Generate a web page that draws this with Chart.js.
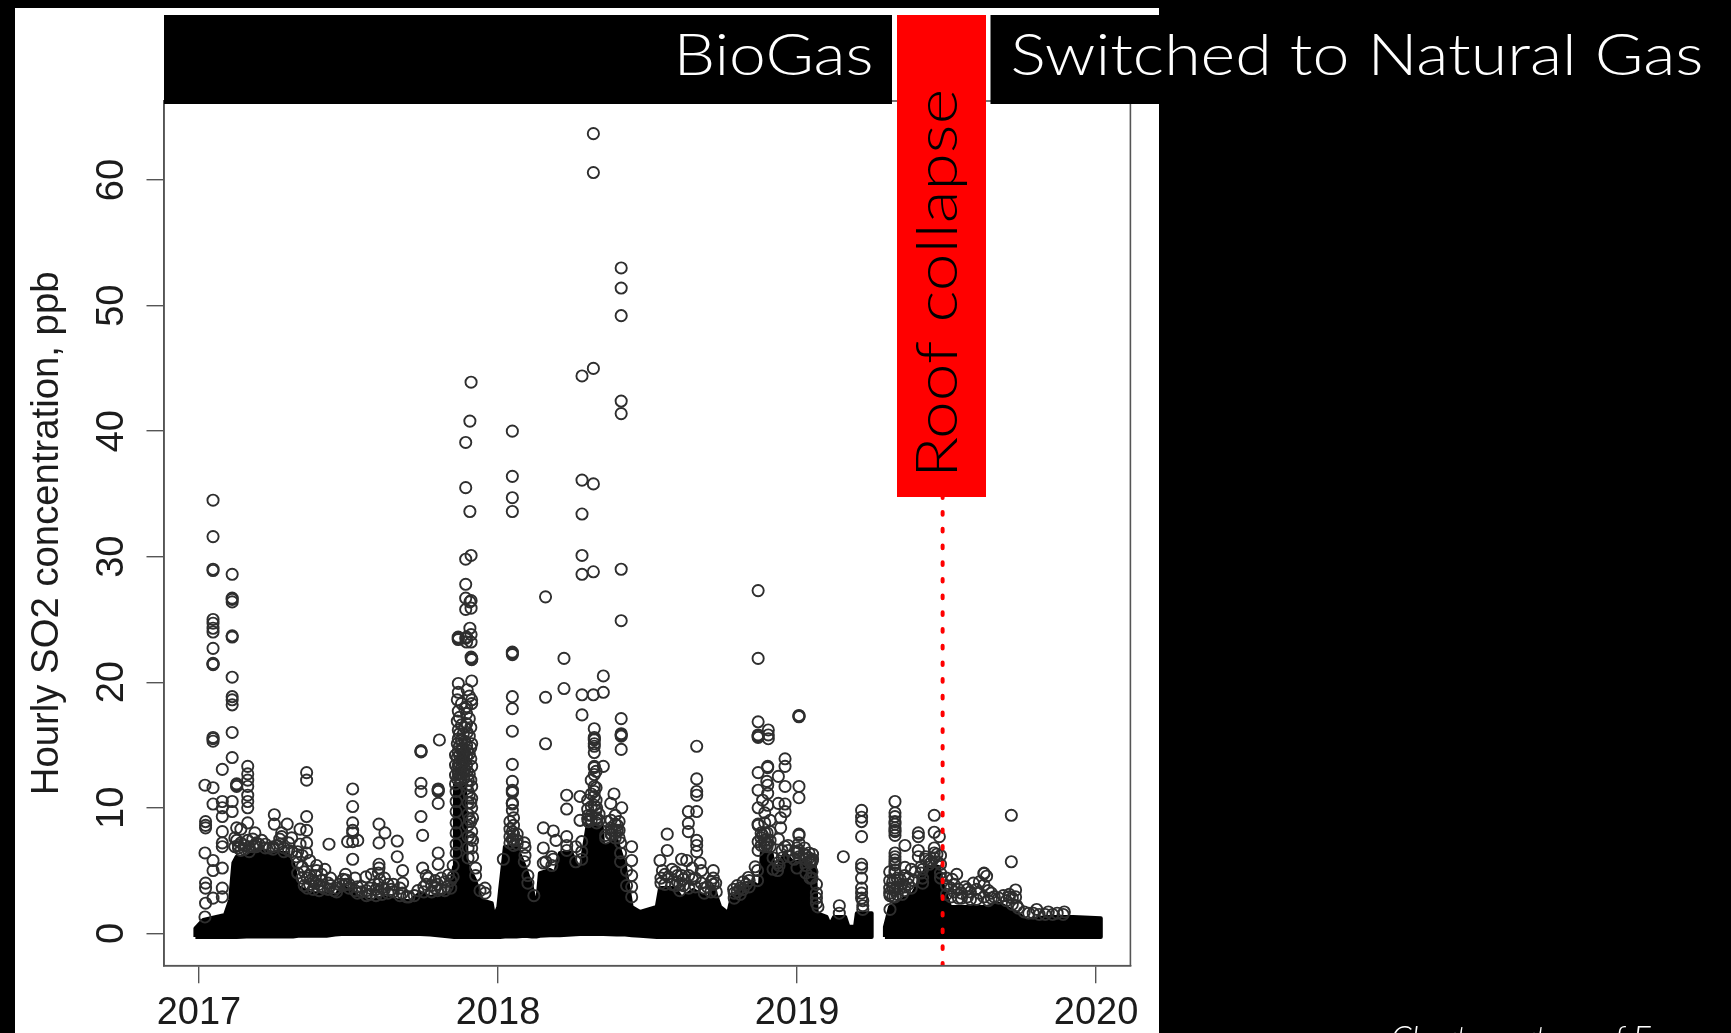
<!DOCTYPE html>
<html>
<head>
<meta charset="utf-8">
<style>html,body{margin:0;padding:0;background:#000;overflow:hidden}canvas{display:block}</style>
<script src="https://cdn.jsdelivr.net/npm/chart.js@4"></script>
</head>
<body>
<canvas id="c" width="1731" height="1033"></canvas>
<script>
// ---- DATA ----
const xTickValues = [2017, 2018, 2019, 2020];
const yTickValues = [0, 10, 20, 30, 40, 50, 60];
const roofCollapseYear = 2019.487;
const yAxisTitle = "Hourly SO2 concentration, ppb";

// columns of individually readable circles: [decimal year, [ppb, ...]]
const rings2017 = [
[2017.047,[34.5,31.6,29.0,28.9,25.0,24.7,24.3,24.0,22.7,21.45,21.4,21.5,15.5,15.3,15.6,11.6,10.3,5.8,5.0,2.8]],
[2017.111,[28.6,26.6,26.4,26.7,23.7,23.6,20.4,18.85,18.6,18.2,16.0,14.0,10.5,9.7]],
[2017.078,[13.06,10.5,10.0,9.3,8.1,7.2,6.9,5.2,3.6,2.9]],
[2017.163,[13.3,12.7,12.2,11.7,11.0,10.5,10.0,8.8,7.4]],
[2017.020,[11.8,6.4,1.3]],[2017.126,[11.9,11.8,11.7,8.4,7.4]],[2017.022,[8.9,8.6,8.4,4.0,3.6,2.4]],
[2017.187,[8.0,7.0]],[2017.252,[9.45,8.7]],[2017.295,[8.7]],[2017.2765,[8.0,7.7]],[2017.338,[8.3,7.1]],
[2017.360,[12.8,12.2,9.3,8.2,7.2,6.4]],[2017.4348,[7.1]],[2017.514,[11.5,10.1,8.8,8.2,8.0,7.3,5.9]],
[2017.531,[7.4]],[2017.497,[7.3]],[2017.602,[8.7,7.2,5.5,5.2]],[2017.622,[8.0]],[2017.663,[7.35,6.1]],
[2017.681,[5.0,4.0]],[2017.5585,[4.5]],[2017.577,[4.7]],[2017.605,[4.25]],
[2017.7425,[14.5,14.45,14.55,11.95,11.3,9.3]],[2017.748,[7.8,5.2]],[2017.804,[15.4]],[2017.800,[11.4,11.3,11.5,10.35,6.4,5.5]],
[2017.3935,[5.4,5.0]],[2017.421,[5.1]],[2017.4916,[4.25]],[2017.767,[4.4]],[2017.834,[4.65]],[2017.6945,[2.9]],[2017.9565,[3.6,3.2]]
];
const ringsPeak2017 = [
[2017.910,[43.9,30.1,26.5,25.9,23.8,23.2,22.0]],[2017.906,[40.8,33.6,26.4,24.3]],
[2017.892,[39.1,35.5,29.8,27.8,26.7,25.8,23.5]],[2017.867,[23.5,23.4,23.6]],[2017.895,[23.6,23.2,18.05,17.5,16.7,15.0,14.1,13.4]],
[2017.912,[21.85,21.8,21.9,20.1,18.6,18.3,15.1,13.3,11.7,10.75,10.0,8.1,6.8]],
[2017.8673,[19.9,19.2,17.7,16.2,15.5,14.5,13.4,12.7]],
[2017.860,[11.3,10.5,9.7,8.8,8.0,7.1,6.4]],[2017.875,[13.0,12.2]],[2017.885,[12.4]],
[2017.900,[12.2,11.3,10.4,9.5,8.6,7.7,6.8,6.0]],[2017.915,[9.2,7.4,6.1]]
];
const densePeak2017 = [
[2017.858,[14.2,13.4,12.6,11.9]],[2017.864,[18.6,16.9,15.1,14.0,13.1,12.3]],[2017.871,[17.2,15.9,14.9,14.2,13.5,12.8,12.4]],
[2017.878,[18.3,16.6,15.4,14.6,13.9,13.2,12.7]],[2017.884,[15.9,14.8,14.1,13.6,12.9]],[2017.889,[17.9,16.4,15.3,14.4,13.7,13.0]],
[2017.897,[19.4,16.0,14.6,12.9,11.8]],[2017.904,[18.9,17.1,15.7,14.3,12.7,11.0,9.1]],[2017.909,[16.4,14.8,13.9,12.2,10.4,8.9,7.6]]
];
const fringe2017 = [
[2017.12,[6.9,7.6]],[2017.14,[7.2,6.6,8.3]],[2017.18,[7.5,6.9]],[2017.20,[7.1]],[2017.21,[7.4]],[2017.235,[6.8]],
[2017.27,[7.1,7.5]],[2017.30,[7.2,6.6]],[2017.31,[6.5,7.6]],[2017.325,[6.1]],
[2017.33,[6.5,5.6,4.8]],[2017.345,[5.3,4.4,6.2]],[2017.37,[5.8,4.6,3.9]],[2017.39,[4.6,4.0]],[2017.41,[4.2,3.7,4.7]],
[2017.44,[4.4,3.8]],[2017.46,[3.6,3.3]],[2017.49,[3.9,4.7]],[2017.53,[3.7,3.2]],[2017.56,[3.4,3.0]],[2017.60,[3.9,3.3,4.8]],
[2017.62,[4.4,3.5]],[2017.65,[3.3,3.9]],[2017.68,[3.2]],[2017.72,[3.0]],[2017.76,[4.6,3.9]],[2017.79,[4.2,3.6]],[2017.81,[3.5,4.4]],[2017.83,[3.7]],[2017.85,[4.5,5.4]],
[2017.925,[5.2,4.6]],[2017.94,[3.4]]
];
const moreFringe2017 = [
[2017.132,[6.8,7.0]],[2017.152,[6.7,7.0]],[2017.168,[6.9,6.5]],[2017.192,[6.9,7.2]],[2017.222,[6.8,7.1]],[2017.248,[6.7,6.9]],[2017.262,[7.0]],[2017.284,[6.8,6.5]],
[2017.352,[4.9,3.8]],[2017.362,[4.4,3.6]],[2017.382,[4.1,3.5]],[2017.402,[3.9,3.4]],[2017.418,[3.6]],[2017.432,[4.0,3.5]],[2017.452,[3.4]],[2017.468,[3.9]],
[2017.482,[4.3,3.8]],[2017.502,[3.6,3.9]],[2017.522,[4.4,3.4]],[2017.544,[3.3,3.7]],[2017.572,[3.1,3.6]],[2017.592,[3.0,3.5]],[2017.612,[3.6,3.1]],[2017.632,[3.9,3.2]],
[2017.644,[3.5]],[2017.672,[3.0,3.6]],[2017.702,[2.9]],[2017.732,[3.4]],[2017.752,[3.7,3.3]],[2017.778,[3.3,3.8]],[2017.798,[3.9,3.4]],[2017.822,[3.4,4.1]],[2017.842,[3.6,4.2]]
];
const rings2018 = [
[2018.048,[40.0,36.4,34.7,33.6,22.3,22.2,22.4,18.85,17.9,16.1,13.46,12.1,11.3,11.2,11.4,10.35,10.3,10.4,9.8,8.1,7.5]],
[2018.018,[5.9]],
[2018.319,[63.7,60.6,45.0,35.8,28.8]],
[2018.281,[44.4,36.1,33.4,30.1,28.6,19.0,17.4]],
[2018.412,[53.0,51.4,49.2,42.4,41.4,29.0,24.9,17.1,15.8,15.7,15.9,14.65]],
[2018.159,[26.8,18.8,15.1]],[2018.870,[27.3,21.9,16.85,15.8,15.7,15.6,12.8,11.4,10.0,8.7,8.6,7.3,6.6]],
[2018.2207,[21.9,19.5]],[2018.3188,[19.0]],[2018.3523,[20.5,19.2,13.3]],
[2018.322,[16.3,15.5,15.4,15.6,15.1,14.9,14.4,13.3,13.2,12.65,11.7,11.3,10.9,10.2]],
[2018.2297,[11.0,9.9,7.7]],[2018.2743,[10.9,9.0]],[2018.388,[11.1]],[2018.377,[10.35]],[2018.414,[10.0]],
[2018.1516,[8.4,6.8,5.6]],[2018.185,[8.15,5.9]],[2018.194,[7.4]],[2018.366,[8.9]],[2018.399,[8.6,8.2]],
[2018.447,[6.9,5.8,3.7,2.9]],[2018.0903,[6.85,6.2]],[2018.566,[7.9,6.6]],[2018.5418,[5.8]],
[2018.6645,[14.9,12.3,11.3,11.0,9.7,7.4,7.0,6.5]],[2018.6366,[9.7,8.76,8.1]],[2018.614,[5.9,4.6]],[2018.631,[5.8]],
[2018.72,[5.0,4.4]],[2018.676,[5.6]],[2018.904,[16.2,15.8,15.5]],[2018.902,[13.3,13.2,11.8,11.15,10.2]],
[2018.960,[13.9,13.3,11.7,10.3,9.7,6.9]],[2018.9376,[12.5,10.35,7.5]],[2018.9454,[9.2,8.4]],[2018.8373,[4.45]]
];
const dense2018 = [
[2018.040,[8.9,8.3,7.7,7.2]],[2018.052,[9.2,8.6,7.9,7.4,7.0]],[2018.064,[7.9,7.4,7.1]],[2018.088,[7.2,5.7]],
[2018.302,[9.4,8.9]],[2018.312,[12.2,11.1,10.1,9.4,9.0]],[2018.328,[12.9,11.6,10.6,9.8,9.1]],[2018.338,[9.5,9.0]],
[2018.378,[9.0,8.4,7.9]],[2018.392,[9.4,8.7,8.1,7.6]],[2018.405,[8.9,8.2,7.6]],
[2018.892,[9.6,8.8,8.0,7.4,6.9]],[2018.910,[9.0,8.1,7.4,6.9]],[2018.885,[10.6,7.8]],[2018.899,[12.1,7.2]],
[2019.025,[6.8,6.3]],[2019.040,[6.4,6.0]],[2019.052,[6.3,5.9]]
];
const fringe2018 = [
[2018.10,[4.6,4.0]],[2018.12,[3.0]],[2018.16,[5.7]],[2018.18,[5.4,6.1]],[2018.23,[7.0,6.6]],[2018.26,[6.9,5.7]],[2018.28,[5.9,6.5,7.3]],
[2018.30,[9.1,9.9,10.6]],[2018.33,[9.2,10.0,8.8]],[2018.36,[7.8,7.6]],[2018.38,[8.2,7.9]],[2018.41,[7.2,6.4,5.7]],[2018.43,[5.0,3.8]],[2018.447,[4.6]],
[2018.55,[5.0]],[2018.57,[4.5]],[2018.60,[4.1,4.6]],[2018.62,[3.8,4.3]],[2018.65,[4.3,5.2]],[2018.68,[5.0,4.0]],[2018.70,[3.7]],[2018.72,[3.9]],[2018.73,[3.3]],
[2018.79,[3.2,2.8]],[2018.81,[3.6,3.1]],[2018.83,[3.9]],[2018.86,[5.3]],[2018.88,[7.6,7.0,8.0]],[2018.90,[8.0,7.1,6.9]],[2018.92,[6.0,5.1]],[2018.94,[5.4]],
[2018.97,[7.0,6.6]],[2019.00,[6.5,5.2,6.8,6.4]]
];
const moreFringe2018 = [
[2018.545,[4.0,4.4]],[2018.558,[3.9,4.7]],[2018.582,[3.9,5.1]],[2018.594,[3.8,4.9]],[2018.608,[3.4,3.9]],[2018.638,[3.6,4.6]],[2018.66,[3.7,4.4]],[2018.69,[3.2,3.6]],[2018.712,[3.3,4.1]],[2018.728,[4.0]],
[2018.788,[3.5]],[2018.80,[3.3,3.8]],[2018.82,[4.1,3.5]],[2018.84,[4.2,3.7]],[2018.868,[5.0,4.2]],[2018.935,[5.6,5.0]],[2018.95,[6.6,6.0]],[2018.975,[6.1]],[2018.99,[5.9]]
];
const rings2019 = [
[2019.0066,[17.3,17.25,17.35,11.7,10.8,7.9,7.8,7.2,6.6,6.1]],[2019.0435,[5.7,5.65,5.75,4.4]],[2019.155,[6.1]],
[2019.216,[9.8,9.25,8.9,7.7,5.5,5.2,4.4,3.6,3.2,2.8]],[2019.1415,[2.2,1.6]],
[2019.3277,[10.5,9.6,9.3,8.9,8.7,8.4,8.2,8.1,7.8,6.4,6.1,5.85,5.6,5.45,5.05,4.8,4.25,3.45,2.9]],[2019.311,[3.0,1.9]],
[2019.361,[7.0,5.25,3.7]],[2019.4058,[8.0,7.7,6.6,6.1]],[2019.395,[4.9]],[2019.459,[9.4,8.05,6.8,6.4,6.0]],[2019.476,[7.7]],
[2019.534,[4.7]],[2019.519,[4.3]],[2019.6254,[4.8,4.75,3.85]],[2019.634,[4.55]],[2019.5897,[4.0]],[2019.562,[3.7]],
[2019.7168,[9.4,5.7]],[2019.731,[3.45,2.9]],[2019.690,[3.0]],[2019.8015,[1.9]],[2019.8405,[1.7]],[2019.894,[1.7]]
];
const fringe2019 = [
[2019.03,[5.9,6.2,5.4,4.8]],[2019.05,[5.8,5.7,4.9,4.4]],[2019.065,[3.9,3.2,2.8,2.4]],[2019.07,[2.1]],[2019.22,[2.6,2.2,1.9]],
[2019.31,[4.9,4.2,3.6,3.2]],[2019.335,[4.4,3.7,3.1]],[2019.36,[3.4,4.6]],[2019.39,[4.2]],[2019.42,[5.1,4.4,4.0]],[2019.45,[5.7]],
[2019.48,[6.2,5.5,4.8,4.4]],[2019.50,[3.8,3.1,4.4]],[2019.525,[3.9,3.3]],[2019.55,[3.2,2.8]],[2019.57,[3.5,2.9]],[2019.60,[3.5,2.7]],
[2019.64,[3.4,2.6]],[2019.66,[2.9]],[2019.70,[2.6]],[2019.72,[2.8,2.3]],[2019.74,[2.0]],[2019.76,[1.7]],[2019.79,[1.6]],[2019.83,[1.5]],[2019.87,[1.6]],[2019.89,[1.5]]
];
const moreFringe2019 = [
[2019.32,[2.9,3.6,4.1]],[2019.345,[3.6,4.3]],[2019.352,[3.1,3.9]],[2019.372,[3.9,4.4]],[2019.382,[3.6,5.1]],[2019.415,[5.3,4.8]],[2019.43,[5.9,6.1]],[2019.442,[5.8,5.5]],[2019.468,[6.3,5.7]],
[2019.515,[2.9,3.6]],[2019.54,[2.8,3.5]],[2019.58,[2.7,3.3]],[2019.61,[3.2,4.1]],[2019.625,[2.9]],[2019.65,[2.8,3.2]],[2019.675,[2.8]],[2019.71,[2.9,3.1]],[2019.735,[2.2]],
[2019.775,[1.6]],[2019.81,[1.5]],[2019.855,[1.5]]
];

// solid core of overlapping circles: outline read along the top and bottom of the black mass
const coreYears = [2016.988,2016.988,2017.0145,2017.087,2017.104,2017.115,2017.126,2017.159,2017.193,2017.226,2017.26,2017.293,2017.315,2017.332,2017.371,2017.427,2017.455,2017.477,2017.511,2017.538,2017.583,2017.616,2017.661,2017.706,2017.739,2017.773,2017.839,2017.853,2017.856,2017.890,2017.895,2017.923,2017.945,2017.979,2017.987,2018.001,
2018.007,2018.023,2018.062,2018.090,2018.113,2018.129,2018.140,2018.174,2018.191,2018.207,2018.246,2018.274,2018.299,2018.347,2018.352,2018.397,2018.425,2018.447,2018.475,2018.531,2018.542,2018.592,2018.614,2018.653,2018.703,2018.720,2018.743,2018.770,2018.782,2018.854,2018.876,2018.882,2018.915,2018.926,2018.960,2018.988,2019.016,2019.060,2019.066,2019.099,2019.110,2019.124,2019.161,2019.172,2019.194,2019.200,2019.2497,2019.2497,
2019.27,
2019.294,2019.294,2019.300,2019.311,2019.389,2019.434,2019.473,2019.489,2019.512,2019.634,2019.679,2019.746,2019.763,2019.835,2019.924,2020.016,2020.016];
const coreTop = [-0.3,0.4,1.06,1.46,2.65,5.6,6.1,6.1,6.6,6.5,6.4,6.4,5.6,3.7,3.2,3.2,2.9,3.7,3.45,2.8,2.65,2.9,2.65,2.55,3.2,2.9,3.2,5.3,11.9,11.9,5.6,4.25,2.65,2.4,1.3,2.1,
3.45,6.9,6.9,5.3,3.7,1.86,4.8,5.05,4.8,6.4,6.4,4.8,8.5,8.5,6.9,7.4,5.3,2.1,1.7,2.1,3.6,3.6,2.8,3.45,2.8,3.7,2.1,1.6,2.9,4.0,3.7,6.4,6.4,4.8,6.4,5.6,5.8,5.3,1.6,1.3,0.66,1.3,1.3,0.53,0.53,1.6,1.6,-0.3,
null,
-0.3,0.5,1.06,2.1,3.2,5.3,5.3,3.7,2.1,2.1,2.35,1.46,1.06,1.3,1.3,1.2,-0.3];
const coreLow = [-0.3,-0.3,-0.3,-0.3,-0.3,-0.3,-0.3,-0.25,-0.25,-0.25,-0.25,-0.25,-0.25,-0.2,-0.2,-0.2,-0.1,-0.05,-0.05,-0.05,-0.05,-0.05,-0.05,-0.05,-0.05,-0.1,-0.25,-0.3,-0.3,-0.3,-0.3,-0.3,-0.3,-0.3,-0.3,-0.3,
-0.3,-0.25,-0.25,-0.2,-0.25,-0.25,-0.2,-0.15,-0.15,-0.15,-0.1,-0.05,-0.05,-0.05,-0.05,-0.1,-0.1,-0.15,-0.2,-0.3,-0.3,-0.3,-0.3,-0.3,-0.3,-0.3,-0.3,-0.3,-0.3,-0.3,-0.3,-0.3,-0.3,-0.3,-0.3,-0.3,-0.3,-0.3,-0.3,-0.3,-0.3,-0.3,-0.3,-0.3,-0.3,-0.3,-0.3,-0.3,
null,
-0.3,-0.3,-0.3,-0.3,-0.3,-0.3,-0.3,-0.3,-0.3,-0.3,-0.3,-0.3,-0.3,-0.3,-0.3,-0.3,-0.3];

// ---- BUILD ----
const ringPoints = [rings2017,ringsPeak2017,densePeak2017,fringe2017,moreFringe2017,rings2018,dense2018,fringe2018,moreFringe2018,rings2019,fringe2019,moreFringe2019]
  .flat().flatMap(([x,ys]) => ys.map(y => ({x,y})));
const corePts = a => coreYears.map((x,i) => ({x, y:a[i]}));
const xMin = 2016.883, xMax = 2020.115, yMin = -2.58, yMax = 66.3;

const AXIS = '#555', TEXT = '#1c1c1c', FONT = '"Liberation Sans", Arial, sans-serif', DECK = 'Lato, "Open Sans", sans-serif';

function fitText(ctx, text, x, y, w, font, color) {
  ctx.font = font; ctx.fillStyle = color; ctx.textAlign = 'left'; ctx.textBaseline = 'alphabetic';
  const m = ctx.measureText(text).width;
  ctx.save(); ctx.translate(x, y); ctx.scale(w / m, 1); ctx.fillText(text, 0, 0); ctx.restore();
}

const panelPlugin = {
  id: 'panel',
  beforeDraw(chart) {
    const c = chart.ctx;
    c.save();
    c.fillStyle = '#000'; c.fillRect(0, 0, 1731, 1033);
    c.fillStyle = '#fff'; c.fillRect(15, 8, 1144, 1025);
    c.restore();
  },
  afterDatasetsDraw(chart) {
    const c = chart.ctx, a = chart.chartArea;
    c.save(); c.strokeStyle = AXIS; c.lineWidth = 1.6;
    c.strokeRect(a.left, a.top, a.right - a.left, a.bottom - a.top);
    c.restore();
  },
  afterDraw(chart) {
    const c = chart.ctx;
    c.save();
    c.fillStyle = '#000';
    c.fillRect(164, 15, 728, 89);
    c.fillRect(990.5, 15, 168.5, 89);
    c.fillStyle = '#f00';
    c.fillRect(897, 15, 89, 482);
    const light = '300 58px ' + DECK;
    fitText(c, 'BioGas', 673.5, 75, 200, light, '#fff');
    fitText(c, 'Switched to Natural Gas', 1010.5, 75, 693, light, '#fff');
    c.save(); c.translate(957, 478); c.rotate(-Math.PI / 2);
    fitText(c, 'Roof collapse', 0, 0, 389, '300 58px ' + DECK, '#000');
    c.restore();
    c.font = 'italic 300 33px ' + DECK; c.fillStyle = '#fff'; c.textAlign = 'left'; c.textBaseline = 'alphabetic';
    c.fillText('Chart courtesy of E', 1391, 1050);
    c.restore();
  }
};

new Chart(document.getElementById('c'), {
  type: 'scatter',
  plugins: [panelPlugin],
  data: { datasets: [
    { label: 'SO2 dense top', data: corePts(coreTop), showLine: true, pointRadius: 0, borderColor: '#000', borderWidth: 4, backgroundColor: '#000', fill: '+1', tension: 0, spanGaps: false, borderJoinStyle: 'round', order: 3 },
    { label: 'SO2 dense bottom', data: corePts(coreLow), showLine: true, pointRadius: 0, borderColor: '#000', borderWidth: 4, fill: false, tension: 0, spanGaps: false, order: 3 },
    { label: 'Hourly SO2', data: ringPoints, pointStyle: 'circle', pointRadius: 5.6, pointBorderWidth: 1.9, pointBorderColor: '#2e2e2e', pointBackgroundColor: 'rgba(0,0,0,0)', showLine: false, order: 2 },
    { label: 'Roof collapse', data: [{x: roofCollapseYear, y: yMin}, {x: roofCollapseYear, y: 36}], showLine: true, pointRadius: 0, borderColor: '#f00', borderWidth: 4, borderDash: [2.7, 14], borderCapStyle: 'round', fill: false, order: 1 }
  ]},
  options: {
    responsive: false, animation: false, devicePixelRatio: 1,
    layout: { autoPadding: false, padding: { left: 15, top: 101, right: 600.6, bottom: 0 } },
    plugins: { legend: { display: false }, tooltip: { enabled: false } },
    events: [],
    scales: {
      x: {
        type: 'linear', min: xMin, max: xMax,
        afterBuildTicks: a => { a.ticks = xTickValues.map(v => ({ value: v })); },
        afterFit: a => { a.height = 67.3; },
        border: { color: AXIS, width: 1.6 },
        grid: { drawOnChartArea: false, drawTicks: true, tickLength: 17.5, color: AXIS, lineWidth: 1.4 },
        ticks: { autoSkip: false, maxRotation: 0, font: { family: FONT, size: 38 }, color: TEXT, padding: 8, callback: v => String(v) }
      },
      y: {
        type: 'linear', min: yMin, max: yMax,
        afterBuildTicks: a => { a.ticks = yTickValues.map(v => ({ value: v })); },
        afterFit: a => { a.width = 149; },
        border: { color: AXIS, width: 1.6 },
        grid: { drawOnChartArea: false, drawTicks: true, tickLength: 17.5, color: AXIS, lineWidth: 1.4 },
        ticks: { autoSkip: false, minRotation: 90, maxRotation: 90, crossAlign: 'center', font: { family: FONT, size: 38 }, color: TEXT, padding: 12.5, callback: v => String(v) },
        title: { display: true, text: yAxisTitle, color: TEXT, font: { family: FONT, size: 38.3 }, padding: { top: 9, bottom: 0 } }
      }
    }
  }
});
</script>
</body>
</html>
